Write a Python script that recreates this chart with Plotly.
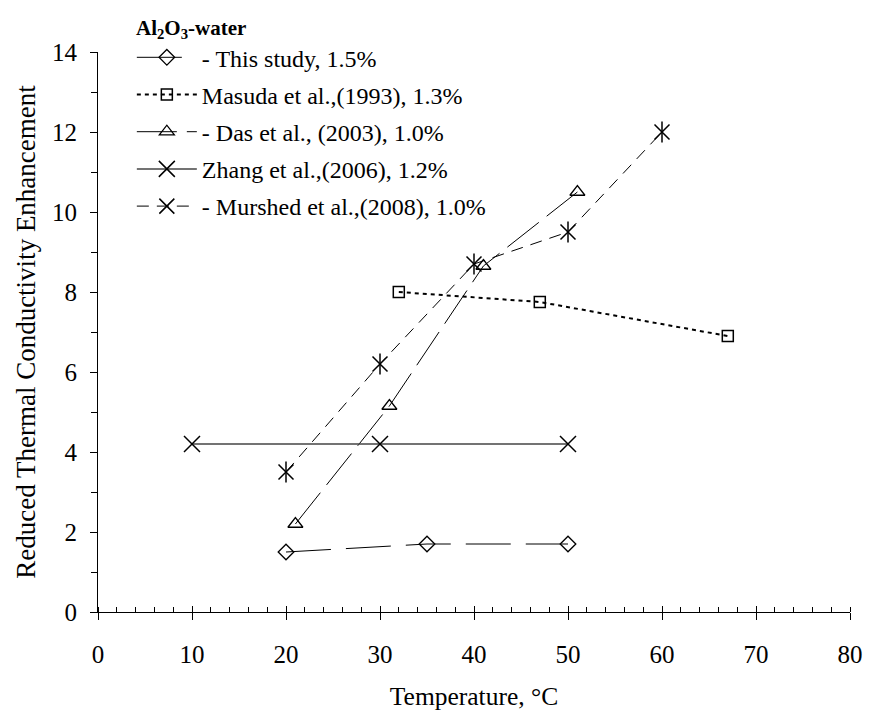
import plotly.graph_objects as go

# Data
study_x = [20, 35, 50]
study_y = [1.5, 1.7, 1.7]
masuda_x = [32, 47, 67]
masuda_y = [8.0, 7.75, 6.9]
das_x = [21, 31, 41, 51]
das_y = [2.2, 5.15, 8.65, 10.5]
zhang_x = [10, 30, 50]
zhang_y = [4.2, 4.2, 4.2]
murshed_x = [20, 30, 40, 50, 60]
murshed_y = [3.5, 6.2, 8.7, 9.5, 12.0]

FONT = "Liberation Serif, Times New Roman, serif"
FS = 24
fig = go.Figure()

fig.add_trace(go.Scatter(x=study_x, y=study_y, mode="lines+markers", name="- This study, 1.5%",
                         legendgroup="a",
                         line=dict(color="black", width=1, dash="45px,15px"),
                         marker=dict(symbol="diamond-open", size=12, color="black", line=dict(width=1.3))))
fig.add_trace(go.Scatter(x=masuda_x, y=masuda_y, mode="lines+markers", name="Masuda et al.,(1993), 1.3%",
                         legendgroup="b",
                         line=dict(color="black", width=2, dash="4px,4px"),
                         marker=dict(symbol="square-open", size=11, color="black", line=dict(width=1.5))))
fig.add_trace(go.Scatter(x=das_x, y=das_y, mode="lines+markers", name="- Das et al., (2003), 1.0%",
                         legendgroup="c",
                         line=dict(color="black", width=1, dash="40px,10px"),
                         marker=dict(symbol="triangle-up-open", size=13, color="black", line=dict(width=1.3))))
fig.add_trace(go.Scatter(x=zhang_x, y=zhang_y, mode="lines+markers", name="Zhang et al.,(2006), 1.2%",
                         legendgroup="d",
                         line=dict(color="#444", width=1.5),
                         marker=dict(symbol="x-thin-open", size=16, color="black", line=dict(width=1.5, color="black"))))
fig.add_trace(go.Scatter(x=murshed_x, y=murshed_y, mode="lines+markers", name="- Murshed et al.,(2008), 1.0%",
                         legendgroup="e",
                         line=dict(color="black", width=1, dash="12px,8px"),
                         marker=dict(symbol="x-thin-open", size=15, color="black", line=dict(width=1.5, color="black"))))
fig.add_trace(go.Scatter(x=murshed_x, y=murshed_y, mode="markers", showlegend=False,
                         legendgroup="e",
                         marker=dict(symbol="line-ns-open", size=15, color="black", line=dict(width=1.5, color="black"))))

fig.update_layout(
    width=870, height=711,
    margin=dict(l=98, r=20, t=52, b=99, pad=0),
    paper_bgcolor="white", plot_bgcolor="white",
    font=dict(family=FONT, size=FS, color="black"),
    showlegend=True,
    legend=dict(x=0.045, y=1.03, xanchor="left", yanchor="top", bgcolor="rgba(0,0,0,0)",
                traceorder="grouped", tracegroupgap=3, font=dict(size=FS, family=FONT),
                itemwidth=60),
    xaxis=dict(range=[0, 80], showgrid=False, zeroline=False, showline=True, linecolor="black", linewidth=1,
               automargin=False,
               tickmode="linear", tick0=0, dtick=10, ticks="outside", ticklen=7, tickcolor="black",
               tickfont=dict(size=25),
               minor=dict(ticks="inside", ticklen=5, dtick=2, tickcolor="black", showgrid=False),
               title=dict(text="Temperature, °C", standoff=20, font=dict(size=25.5)),
               ticklabelstandoff=13),
    xaxis2=dict(range=[0, 80], overlaying="x", matches="x", showgrid=False, zeroline=False, showticklabels=False,
                tickmode="linear", tick0=0, dtick=10, ticks="inside", ticklen=6, tickcolor="black", side="bottom"),
    yaxis=dict(range=[0, 14], showgrid=False, zeroline=False, showline=True, linecolor="black", linewidth=1,
               automargin=False,
               tickmode="linear", tick0=0, dtick=2, ticks="outside", ticklen=7, tickcolor="black",
               tickfont=dict(size=25),
               minor=dict(ticks="outside", ticklen=6, dtick=1, tickcolor="black", showgrid=False),
               title=dict(text="Reduced Thermal Conductivity Enhancement", standoff=8, font=dict(size=27)),
               ticklabelstandoff=8),
)
# invisible trace so the overlay axis draws its ticks
fig.add_trace(go.Scatter(x=[0], y=[0], xaxis="x2", mode="markers", marker=dict(opacity=0), showlegend=False, hoverinfo="skip"))

fig.add_annotation(text="<b>Al<sub>2</sub>O<sub>3</sub>-water</b>", xref="paper", yref="paper",
                   x=0.048, y=1.0, xanchor="left", yanchor="bottom", yshift=8, showarrow=False,
                   font=dict(size=21, family=FONT))

fig.write_html("out.html")
